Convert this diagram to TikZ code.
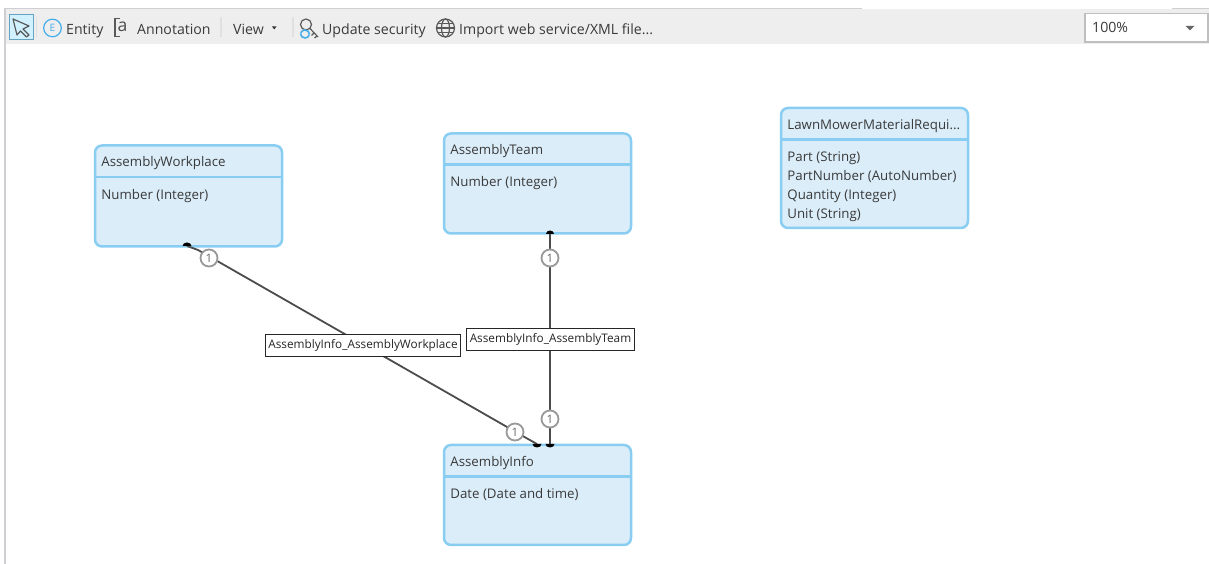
\documentclass[tikz,border=0pt]{standalone}
\usepackage{fontspec}
\usepackage{xcolor}
\setmainfont{Open Sans}
\usetikzlibrary{calc}
\usetikzlibrary{positioning}

\definecolor{boxfill}{HTML}{DAEDF9}
\definecolor{boxedge}{HTML}{89CEF2}
\definecolor{barfill}{HTML}{EEEEEE}
\definecolor{baredge}{HTML}{CFCFD3}
\definecolor{inktext}{HTML}{3A3A3A}
\definecolor{iconblue}{HTML}{45AEEA}

\tikzset{
  entitybox/.style={draw=boxedge,fill=boxfill,line width=0.025cm,rounded corners=0.07cm,
    minimum width=1.87cm,anchor=north west,inner sep=0,outer sep=0},
  entitytitle/.style={text=inktext,font=\fontsize{3.78}{5}\selectfont,anchor=base west,inner sep=0},
  entityattrs/.style={text=inktext,font=\fontsize{3.78}{5.4}\selectfont,anchor=north west,
    inner sep=0,align=left},
  relline/.style={draw=black!70,line width=0.018cm},
  relname/.style={draw=black!85,fill=white,line width=0.012cm,inner xsep=0.03cm,inner ysep=0.05cm,
    font=\fontsize{3.35}{4}\selectfont,text=black!85},
  onemark/.style={circle,draw=black!40,fill=white,line width=0.018cm,minimum size=0.17cm,inner sep=0,
    font=\fontsize{3.3}{3}\selectfont,text=black!60},
  barlabel/.style={text=inktext,font=\fontsize{4.02}{5}\selectfont,anchor=base west,inner sep=0},
  barsep/.style={draw=black!12,line width=0.012cm},
  iconline/.style={draw=black!65,line width=0.012cm}
}

\begin{document}
\begin{tikzpicture}[x=1cm,y=-1cm]
\useasboundingbox (0,0) rectangle (12.09,5.64);

% toolbar
\fill[barfill] (0.05,0.09) rectangle (12.09,0.445);
\fill[baredge] (0.05,0.08) rectangle (8.62,0.095);
\fill[baredge] (11.72,0.08) rectangle (12.09,0.095);
\fill[baredge] (0.04,0.08) rectangle (0.06,5.64);

% pointer button
\draw[draw=blue!35!cyan!60!black!60,fill=blue!30!cyan!18,line width=0.01cm] (0.095,0.15) rectangle (0.335,0.395);
\draw[iconline,line join=round] (0.13,0.19) -- (0.29,0.26) -- (0.23,0.29) -- (0.29,0.35) -- (0.265,0.37) -- (0.205,0.31) -- (0.17,0.35) -- cycle;
\draw[barsep] (0.365,0.17) -- (0.365,0.37);

% entity
\draw[draw=iconblue,line width=0.012cm] (0.525,0.28) circle (0.088);
\node[text=iconblue,font=\fontsize{2.9}{3}\selectfont,inner sep=0] (entityglyph) at (0.525,0.28) {E};
\node[barlabel] (entitytool) at (0.655,0.345) {Entity};

% annotation
\draw[draw=black!65,line width=0.016cm] (1.2,0.185) -- (1.15,0.185) -- (1.15,0.365) -- (1.2,0.365);
\node[text=black!70,font=\fontsize{5}{6}\selectfont,inner sep=0] (annoglyph) at (1.225,0.27) {a};
\node[barlabel] (annotool) at (1.365,0.345) {Annotation};
\draw[barsep] (2.21,0.17) -- (2.21,0.37);

% view
\node[barlabel] (viewtool) at (2.325,0.345) {View};
\fill[black!80] (2.72,0.265) -- (2.765,0.265) -- (2.7425,0.295) -- cycle;
\draw[barsep] (2.93,0.17) -- (2.93,0.37);

% security key
\draw[iconline] (3.06,0.245) circle (0.055);
\draw[iconline] (3.1,0.285) -- (3.18,0.37) (3.14,0.33) -- (3.115,0.355) (3.17,0.36) -- (3.145,0.38);
\draw[draw=iconblue,line width=0.016cm] (3.005,0.335) arc (180:20:0.045);
\draw[draw=iconblue,line width=0.016cm] (3.095,0.345) arc (0:-160:0.045);
\node[barlabel] (securitytool) at (3.215,0.345) {Update security};

% globe
\draw[iconline] (4.455,0.28) circle (0.09);
\draw[iconline] (4.455,0.28) ellipse (0.04 and 0.09);
\draw[iconline] (4.365,0.28) -- (4.545,0.28) (4.38,0.235) -- (4.53,0.235) (4.38,0.325) -- (4.53,0.325);
\node[barlabel] (importtool) at (4.585,0.345) {Import web service/XML file...};

% zoom box
\draw[draw=black!25,fill=white,line width=0.012cm] (10.85,0.135) rectangle (12.08,0.42);
\node[barlabel] (zoomvalue) at (10.915,0.325) {100\%};
\fill[black!60] (11.855,0.26) -- (11.945,0.26) -- (11.9,0.305) -- cycle;

% entities
\node[entitybox,minimum height=1.01cm] (workplace) at (0.95,1.455) {};
\node[entitybox,minimum height=1.0cm] (team) at (4.44,1.335) {};
\node[entitybox,minimum height=1.2cm] (lawnmower) at (7.81,1.08) {};
\node[entitybox,minimum height=1.0cm] (info) at (4.44,4.45) {};

\draw[draw=boxedge,line width=0.025cm] (0.95,1.77) -- (2.82,1.77);
\draw[draw=boxedge,line width=0.025cm] (4.44,1.645) -- (6.31,1.645);
\draw[draw=boxedge,line width=0.025cm] (7.81,1.395) -- (9.68,1.395);
\draw[draw=boxedge,line width=0.025cm] (4.44,4.765) -- (6.31,4.765);

\node[entitytitle] (workplacetitle) at (1.007,1.67) {AssemblyWorkplace};
\node[entitytitle] (teamtitle) at (4.497,1.55) {AssemblyTeam};
\node[entitytitle] (lawnmowertitle) at (7.867,1.3) {LawnMowerMaterialRequi...};
\node[entitytitle] (infotitle) at (4.497,4.665) {AssemblyInfo};

\node[entityattrs] (workplaceattrs) at (1.007,1.885) {Number (Integer)};
\node[entityattrs] (teamattrs) at (4.497,1.755) {Number (Integer)};
\node[entityattrs] (lawnmowerattrs) at (7.867,1.51) {Part (String)\\PartNumber (AutoNumber)\\Quantity (Integer)\\Unit (String)};
\node[entityattrs] (infoattrs) at (4.497,4.875) {Date (Date and time)};

% relations
\coordinate (workplacefoot) at (1.87,2.46);
\coordinate (teamfoot) at (5.5,2.34);
\coordinate (infohead) at (5.37,4.44);
\coordinate (infohead2) at (5.5,4.44);

\draw[relline] (workplacefoot) -- (1.98,2.5) -- (5.28,4.39) -- (infohead);
\draw[relline] (teamfoot) -- (infohead2);
\fill[black] (workplacefoot) ++(-0.045,0) arc (180:360:0.045 and 0.035) -- cycle;
\fill[black] (teamfoot) ++(-0.04,0) arc (180:360:0.04 and 0.035) -- cycle;
\fill[black] (infohead) ++(-0.045,0) arc (180:0:0.045 and 0.035) -- cycle;
\fill[black] (infohead2) ++(-0.045,0) arc (180:0:0.045 and 0.035) -- cycle;

\node[onemark] (workplaceone) at (2.09,2.58) {1};
\node[onemark] (teamone) at (5.5,2.58) {1};
\node[onemark] (infoone) at (5.15,4.32) {1};
\node[onemark] (infoone2) at (5.5,4.19) {1};

\node[relname] (workplacerel) at (3.63,3.455) {AssemblyInfo\_AssemblyWorkplace};
\node[relname] (teamrel) at (5.505,3.395) {AssemblyInfo\_AssemblyTeam};

\end{tikzpicture}
\end{document}
